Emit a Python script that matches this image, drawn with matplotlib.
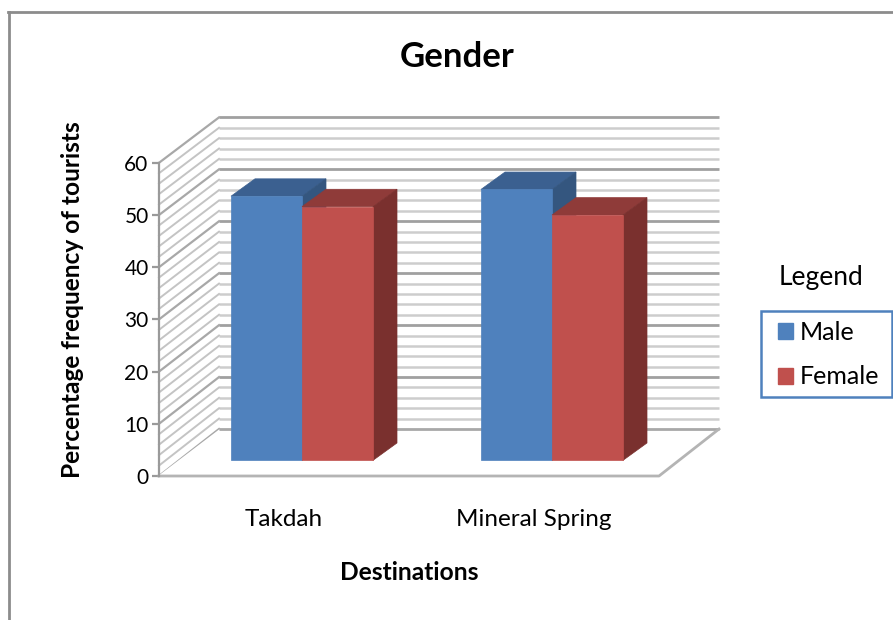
import matplotlib
matplotlib.use("Agg")
import matplotlib.pyplot as plt
from matplotlib.patches import Patch, Polygon, Rectangle

plt.rcParams['font.family'] = ['Lato', 'DejaVu Sans']

categories = ["Takdah", "Mineral Spring"]
series_names = ["Male", "Female"]
male_values = [50.6, 51.9]
female_values = [48.6, 47.0]
y_ticks = [0, 10, 20, 30, 40, 50, 60]
minor_step_values = list(range(0, 61, 2))

W, H = 893, 620
BLUE, BLUE_TOP, BLUE_SIDE = "#4F81BD", "#3B6090", "#34567F"
RED, RED_TOP, RED_SIDE = "#C0504D", "#8F3B39", "#7A302E"

# Oblique depth of the chart box, in data units
WALL_DX, WALL_DY = 0.24, 9.0
BAR_DEPTH = 0.40
BAR_W = 0.284
BAR_OFFSET_X = 0.072
BAR_OFFSET_Y = 3.0

fig = plt.figure(figsize=(W / 100, H / 100), dpi=100, facecolor="white")

# Outer chart frame (top and left edges)
fig.add_artist(plt.Line2D([9 / W, 9 / W], [0, 1 - 12 / H], color="#8C8C8C", lw=2.0))
fig.add_artist(plt.Line2D([8 / W, 1], [1 - 12 / H, 1 - 12 / H], color="#8C8C8C", lw=2.0))

left, right, top, bottom = 159, 720, 117, 476
ax = fig.add_axes([left / W, 1 - bottom / H, (right - left) / W, (bottom - top) / H])
ax.set_xlim(0, (right - left) / 250)
ax.set_ylim(0, (bottom - top) / 5.22)
ax.patch.set_alpha(0)
for side in ("top", "right", "bottom"):
    ax.spines[side].set_visible(False)
ax.spines["left"].set_bounds(0, 60)
ax.spines["left"].set_color("#9A9A9A")
ax.spines["left"].set_linewidth(1.6)

# Back wall and left wall gridlines
for v in minor_step_values:
    major = v % 10 == 0
    col = "#A0A0A0" if major else "#CDCDCD"
    back_y = v * 0.995 + WALL_DY
    if v > 0:
        ax.plot([WALL_DX, 2 + WALL_DX], [back_y, back_y], color=col, lw=2.0 if major else 1.8, zorder=1,
                solid_capstyle="butt", clip_on=False)
    ax.plot([0, WALL_DX], [v, back_y], color="#A8A8A8" if major else "#C4C4C4",
            lw=1.6 if major else 1.4, zorder=1, clip_on=False)

# Floor: white panel, back edge, front and right edges
ax.add_patch(Polygon([(WALL_DX, WALL_DY - .1), (2 + WALL_DX, WALL_DY - .1), (2, 0.15), (0, 0.15)],
                     closed=True, fc="white", ec="none", zorder=1.5))
ax.plot([WALL_DX, 2 + WALL_DX], [WALL_DY, WALL_DY], color="#A8A8A8", lw=2.0, zorder=1.6,
        solid_capstyle="butt")
ax.plot([0, 2, 2 + WALL_DX], [0, 0, WALL_DY], color="#B4B4B4", lw=2.0, zorder=1.6, clip_on=False)

dx = BAR_DEPTH * WALL_DX
dy = 0.37 * WALL_DY


def draw_bar(x0, value, face, top_col, side_col, z):
    # Front face through the bar API, top and side as sheared polygons
    x_left = x0 + BAR_OFFSET_X
    y_top = BAR_OFFSET_Y + value
    x_right = x_left + BAR_W
    ax.add_patch(Polygon([(x_left, y_top), (x_right, y_top), (x_right + dx, y_top + dy), (x_left + dx, y_top + dy)],
                         closed=True, fc=top_col, ec=top_col, lw=0.5, zorder=z))
    ax.add_patch(Polygon([(x_right, BAR_OFFSET_Y), (x_right + dx, BAR_OFFSET_Y + dy), (x_right + dx, y_top + dy), (x_right, y_top)],
                         closed=True, fc=side_col, ec=side_col, lw=0.5, zorder=z))
    ax.bar(x_left, value, BAR_W, bottom=BAR_OFFSET_Y, align="edge", color=face, edgecolor=face, lw=0.5, zorder=z + 0.1)


for i in range(len(categories)):
    centre = i + 0.5
    draw_bar(centre - BAR_W, male_values[i], BLUE, BLUE_TOP, BLUE_SIDE, 3 + i)
    draw_bar(centre, female_values[i], RED, RED_TOP, RED_SIDE, 3.5 + i)

ax.set_yticks(y_ticks)
ax.set_yticklabels([str(t) for t in y_ticks], fontsize=15, color="black")
ax.tick_params(axis="y", length=5, width=1.6, color="#9A9A9A", pad=2.5)
ax.set_xticks([0.5, 1.5])
ax.set_xticklabels(categories, fontsize=17.5, color="black")
ax.tick_params(axis="x", length=0, pad=24)

fig.text(457 / W, 1 - 57 / H, "Gender", fontsize=25, fontweight="bold", ha="center", va="center")
fig.text(73 / W, 1 - 300 / H, "Percentage frequency of tourists", fontsize=17.6, fontweight="bold",
         rotation=90, ha="center", va="center")
fig.text(409 / W, 1 - 572 / H, "Destinations", fontsize=17.7, fontweight="bold", ha="center", va="center")

fig.text(821 / W, 1 - 278 / H, "Legend", fontsize=19, ha="center", va="center")

# Legend box is drawn on its own so the entries can sit with a wider side margin
fig.add_artist(Rectangle((761 / W, 1 - 397 / H), 131 / W, 86 / H, transform=fig.transFigure,
                         fc="white", ec=BLUE, lw=1.8))
handles = [Patch(fc=BLUE, ec=BLUE), Patch(fc=RED, ec=RED)]
leg = fig.legend(handles, series_names, loc="center left",
                 bbox_to_anchor=(778 / W, 1 - 354.5 / H), bbox_transform=fig.transFigure,
                 frameon=False, fontsize=18, handlelength=0.6, handleheight=0.6, handletextpad=0.28,
                 labelspacing=0.87, borderpad=0, borderaxespad=0)
leg.set_zorder(5)

fig.savefig("out.png", dpi=100, facecolor="white")
